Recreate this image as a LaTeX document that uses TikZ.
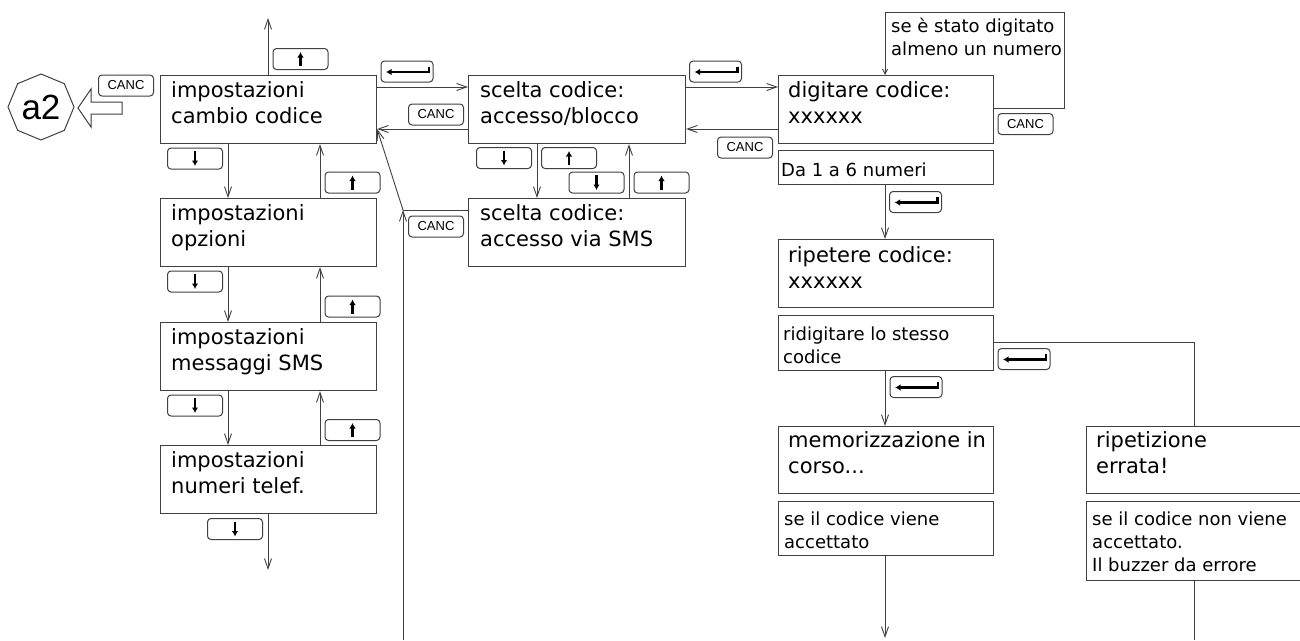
\documentclass[tikz,border=0pt]{standalone}
\usepackage{fontspec}
\setmainfont{DejaVu Sans}
\newfontfamily\keyfont{Liberation Sans}
\usetikzlibrary{arrows.meta,calc,shapes.geometric}

\tikzset{
  box/.style={draw=black!75, line width=1.1pt, rectangle, inner sep=0pt, anchor=north west},
  bigtxt/.style={anchor=base west, inner sep=0pt, align=left, font=\fontsize{21}{26}\selectfont},
  smalltxt/.style={anchor=base west, inner sep=0pt, align=left, font=\fontsize{18}{23}\selectfont},
  key/.style={draw=black!75, line width=1pt, rounded corners=3.5pt, minimum width=55pt, minimum height=21pt, inner sep=0pt},
  entkey/.style={key, minimum width=52pt},
  sym/.style={line width=2.4pt, -{Latex[length=5.5pt,width=6.5pt]}},
  conn/.style={draw=black!75, line width=0.9pt},
  arr/.style={conn, -{Straight Barb[length=10pt,width=7pt]}},
  sarr/.style={conn, -{Straight Barb[length=5pt,width=5pt]}},
}

\newcommand\bx[6]{\node[box, minimum width={(#4-#2)*1pt}, minimum height={(#5-#3)*1pt}] (#1) at (#2,#3) {};}
\newcommand\KeyUp[3]{\node[key] (#1) at (#2,#3) {}; \draw[sym] ($(#1.center)+(0,7)$) -- ($(#1.center)+(0,-7)$);}
\newcommand\KeyDown[3]{\node[key] (#1) at (#2,#3) {}; \draw[sym] ($(#1.center)+(0,-7.5)$) -- ($(#1.center)+(0,7.5)$);}
\newcommand\KeyEnt[3]{\node[entkey] (#1) at (#2,#3) {}; \draw[sym] ($(#1.center)+(22,-5)$) -- ($(#1.center)+(22,0.5)$) -- ($(#1.center)+(-21,0.5)$);}
\newcommand\KeyCanc[3]{\node[key, font=\keyfont\fontsize{13}{15}\selectfont] (#1) at (#2,#3) {CANC};}

\begin{document}
\begin{tikzpicture}[x=1pt, y=-1pt]
\useasboundingbox (0,0) rectangle (1300,640);
\fill[white] (0,0) rectangle (1300,640);
\clip (0,0) rectangle (1300,640);

% ---- a2 and big hollow arrow
\node[draw=black!75, line width=1pt, regular polygon, regular polygon sides=8, shape border rotate=22.5,
      minimum size=66pt, inner sep=0pt, font=\keyfont\fontsize{35}{40}\selectfont] (a2) at (41,107) {a2};
\draw[black!75, line width=1pt] (122,102) -- (91,102) -- (91,89) -- (78,108) -- (91,127) -- (91,114) -- (122,114) -- cycle;

% ---- left column boxes
\bx{b1}{160}{75}{376}{143}{}
\bx{b2}{160}{198}{376}{266}{}
\bx{b3}{160}{322}{376}{390}{}
\bx{b4}{160}{445}{376}{513}{}
% (base anchor = baseline of the last line)
\node[bigtxt] (b1t) at (171,123) {impostazioni\\cambio codice};
\node[bigtxt] (b2t) at (171,246) {impostazioni\\opzioni};
\node[bigtxt] (b3t) at (171,370) {impostazioni\\messaggi SMS};
\node[bigtxt] (b4t) at (171,493) {impostazioni\\numeri telef.};

% ---- middle column
\bx{s1}{468}{75}{685}{143}{}
\bx{s2}{468}{198}{685}{266}{}
\node[bigtxt] (s1t) at (480,123) {scelta codice:\\accesso/blocco};
\node[bigtxt] (s2t) at (480,246) {scelta codice:\\accesso via SMS};

% ---- right column
\bx{d1}{778}{75}{993}{143}{}
\bx{n1}{778}{150}{993}{184}{}
\bx{r1}{778}{239}{993}{307}{}
\bx{r2}{778}{315}{993}{370}{}
\bx{m1}{778}{426}{993}{493}{}
\bx{m2}{778}{501}{993}{555}{}
\bx{e1}{1086}{426}{1310}{493}{}
\bx{e2}{1086}{501}{1310}{580}{}
\node[bigtxt] (d1t) at (788,123) {digitare codice:\\xxxxxx};
\node[smalltxt] (n1t) at (781,176) {Da 1 a 6 numeri};
\node[bigtxt] (r1t) at (788,288) {ripetere codice:\\xxxxxx};
\node[smalltxt] (r2t) at (783,363) {ridigitare lo stesso\\codice};
\node[bigtxt] (m1t) at (788,473) {memorizzazione in\\corso...};
\node[smalltxt] (m2t) at (784,548) {se il codice viene\\accettato};
\node[bigtxt] (e1t) at (1096,473) {ripetizione\\errata!};
\node[smalltxt] (e2t) at (1092,571) {se il codice non viene\\accettato.\\Il buzzer da errore};
\node[smalltxt] (lpt) at (891,55) {se è stato digitato\\almeno un numero};

% ---- keys
\KeyCanc{c0}{126}{85.5}
\KeyUp{u1}{300.5}{59}
\KeyDown{dn1}{195}{158.5}
\KeyUp{u2}{352.5}{182.5}
\KeyDown{dn2}{195}{281.5}
\KeyUp{u3}{352.5}{306.5}
\KeyDown{dn3}{195}{405.5}
\KeyUp{u4}{352.5}{430}
\KeyDown{dn4}{235}{529}
\KeyEnt{en1}{407}{71.5}
\KeyCanc{c1}{436}{114.5}
\KeyCanc{c2}{436}{226.5}
\KeyDown{sd1}{504}{158}
\KeyUp{su1}{569}{158}
\KeyDown{sd2}{596.5}{182.5}
\KeyUp{su2}{661.5}{182.5}
\KeyEnt{en2}{715.5}{71.5}
\KeyCanc{c3}{745}{147.5}
\KeyCanc{c4}{1025.5}{124}
\KeyEnt{en3}{915.5}{202}
\KeyEnt{en4}{1024}{359}
\KeyEnt{en5}{916}{387}

% ---- helper coordinates
\coordinate (xd) at (228,0);
\coordinate (xu) at (320,0);
\coordinate (xb) at (268,0);
\coordinate (topend) at (268,18);
\coordinate (botend) at (268,570);
\coordinate (yf) at (0,87);
\coordinate (yb) at (0,129);
\coordinate (xs1) at (537,0);
\coordinate (xs2) at (629,0);
\coordinate (j) at (403,210);
\coordinate (jb) at (403,640);
\coordinate (lp1) at (1064,108);
\coordinate (lp2) at (1064,12);
\coordinate (lp3) at (885,12);
\coordinate (xr) at (885,0);
\coordinate (mend) at (885,638);
\coordinate (xe) at (1194,0);
\coordinate (corner) at (1194,342);
\coordinate (eend) at (1194,640);

% ---- connectors, left column
\draw[arr] (b1.north -| xb) -- (topend);
\draw[arr] (b1.south -| xd) -- (b2.north -| xd);
\draw[arr] (b2.north -| xu) -- (b1.south -| xu);
\draw[arr] (b2.south -| xd) -- (b3.north -| xd);
\draw[arr] (b3.north -| xu) -- (b2.south -| xu);
\draw[arr] (b3.south -| xd) -- (b4.north -| xd);
\draw[arr] (b4.north -| xu) -- (b3.south -| xu);
\draw[arr] (b4.south -| xb) -- (botend);

% ---- horizontal links
\draw[arr] (b1.east |- yf) -- (s1.west |- yf);
\draw[arr] (s1.west |- yb) -- (b1.east |- yb);
\draw[arr] (s1.east |- yf) -- (d1.west |- yf);
\draw[arr] (d1.west |- yb) -- (s1.east |- yb);

% ---- scelta
\draw[arr] (s1.south -| xs1) -- (s2.north -| xs1);
\draw[arr] (s2.north -| xs2) -- (s1.south -| xs2);
\draw[conn] (s2.west |- j) -- (j);
\draw[arr] (jb) -- (j);
\draw[arr] (j) -- (b1.east |- yb);

% ---- right column
\draw[sarr] (d1.east |- lp1) -- (lp1) -- (lp2) -- (lp3) -- (d1.north -| lp3);
\draw[arr] (n1.south -| xr) -- (r1.north -| xr);
\draw[arr] (r2.south -| xr) -- (m1.north -| xr);
\draw[arr] (m2.south -| xr) -- (mend);
\draw[conn] (r2.east |- corner) -- (corner) -- (e1.north -| xe);
\draw[conn] (e2.south -| xe) -- (eend);
\end{tikzpicture}
\end{document}
